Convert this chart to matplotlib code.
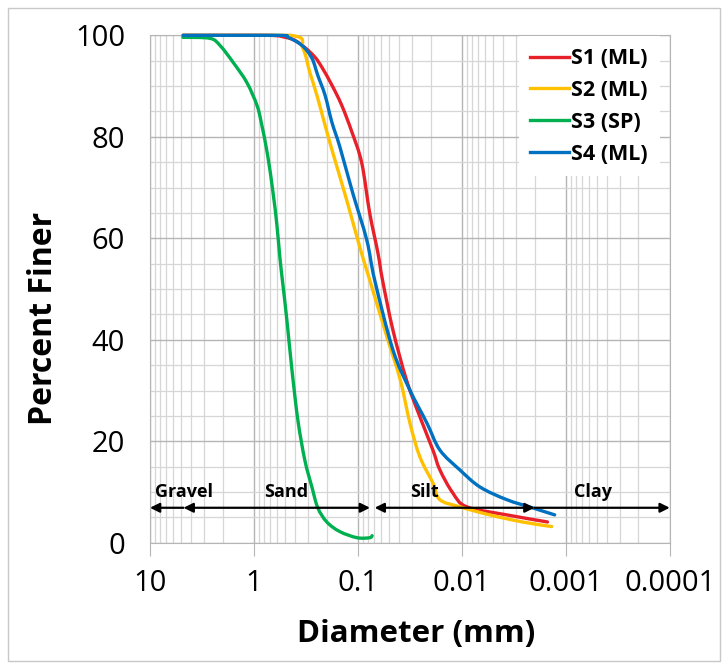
import numpy as np
import matplotlib
matplotlib.use('Agg')
from matplotlib import pyplot as plt
from matplotlib.patches import Rectangle, PathPatch
from matplotlib.path import Path
from matplotlib.lines import Line2D
from matplotlib.ticker import FixedLocator, LogLocator, NullFormatter

plt.rcParams['font.family'] = ['Open Sans', 'DejaVu Sans']

# grain size curves (diameter mm, percent finer)
s1_d = [4.8, 0.75, 0.5, 0.404, 0.324, 0.259, 0.222, 0.178, 0.143, 0.114, 0.0917,
        0.077, 0.064, 0.058, 0.046, 0.034, 0.0253, 0.019, 0.0163, 0.0122, 0.009, 0.0037, 0.0015]
s1_p = [100, 100, 99.6, 99, 97.6, 95.7, 93.7, 90.2, 86.2, 80.9, 74.8,
        65, 57, 51.8, 41.9, 32, 24.8, 18.3, 14.4, 9.8, 7.1, 5.5, 4.1]
s2_d = [4.8, 0.451, 0.338, 0.29, 0.248, 0.207, 0.174, 0.128, 0.096, 0.077, 0.0526, 0.039,
        0.0316, 0.0253, 0.019, 0.0163, 0.0105, 0.0054, 0.0026, 0.00137]
s2_p = [100, 100, 97.4, 92.7, 88.2, 82.3, 76.8, 67.5, 58.3, 51.8, 40.6, 32,
        23.6, 16.9, 11.8, 8.5, 7.1, 5.5, 4.1, 3.2]
s3_d = [4.82, 2.65, 2.12, 1.59, 1.17, 0.935, 0.85, 0.74, 0.656, 0.601, 0.562, 0.526, 0.482,
        0.431, 0.378, 0.324, 0.277, 0.243, 0.199, 0.149, 0.102, 0.077, 0.073]
s3_p = [99.6, 99.4, 98, 94.7, 90.7, 86.2, 82.8, 76.5, 69.1, 62.6, 56.1, 50.8, 43.9,
        34.1, 24.2, 16.3, 11, 6.9, 4.1, 2.2, 1.0, 1.0, 1.4]
s4_d = [4.8, 0.6, 0.471, 0.345, 0.277, 0.243, 0.207, 0.178, 0.149, 0.112, 0.082,
        0.069, 0.046, 0.0316, 0.0217, 0.0163, 0.0105, 0.0067, 0.0037, 0.0021, 0.00128]
s4_p = [100, 100, 99.6, 98, 95.5, 92.1, 88.2, 82.9, 78, 68.9, 59.6,
        51.8, 38, 30.1, 23.6, 18.3, 14.4, 11, 8.5, 6.9, 5.5]

labels = ['S1 (ML)', 'S2 (ML)', 'S3 (SP)', 'S4 (ML)']
colors = ['#e8202a', '#ffc000', '#00b050', '#0070c0']

# soil classes boundaries (mm)
bounds = [10, 4.75, 0.075, 0.002, 0.0001]
classes = ['Gravel', 'Sand', 'Silt', 'Clay']
class_x = [4.7, 0.49, 0.0227, 0.00055]
arrow_y = 6.9


def smooth_path(d, p, t=1 / 6.):
    # excel-like smoothed line: catmull-rom segments as cubic beziers in log space
    pts = np.column_stack([np.log10(d), p])
    n = len(pts)
    verts = [pts[0]]
    codes = [Path.MOVETO]
    for i in range(n - 1):
        p0 = pts[max(i - 1, 0)]
        p1 = pts[i]
        p2 = pts[i + 1]
        p3 = pts[min(i + 2, n - 1)]
        c1 = p1 + (p2 - p0) * t
        c2 = p2 - (p3 - p1) * t
        c1[1] = min(c1[1], 100)
        c2[1] = min(c2[1], 100)
        verts += [c1, c2, p2]
        codes += [Path.CURVE4] * 3
    verts = np.array(verts)
    verts[:, 0] = 10 ** verts[:, 0]
    return Path(verts, codes)


fig = plt.figure(figsize=(7.28, 6.66), dpi=100)
ax = fig.add_axes([0.206, 0.185, 0.714, 0.762])

ax.set_xscale('log')
ax.set_xlim(10, 0.0001)
ax.set_ylim(0, 100)

handles = []
for d, p, lab, c in zip([s1_d, s2_d, s3_d, s4_d], [s1_p, s2_p, s3_p, s4_p], labels, colors):
    patch = PathPatch(smooth_path(d, p), fill=False, edgecolor=c, lw=2.4,
                      capstyle='round', joinstyle='round', zorder=4, clip_on=False)
    ax.add_patch(patch)
    handles.append(Line2D([], [], color=c, lw=2.4))

ax.xaxis.set_major_locator(FixedLocator([10, 1, 0.1, 0.01, 0.001, 0.0001]))
ax.set_xticklabels(['10', '1', '0.1', '0.01', '0.001', '0.0001'])
ax.xaxis.set_minor_locator(LogLocator(base=10, subs=np.arange(2, 10)))
ax.xaxis.set_minor_formatter(NullFormatter())
ax.set_yticks([0, 20, 40, 60, 80, 100])
ax.set_yticks(np.arange(0, 101, 5), minor=True)

ax.grid(which='major', color='#b5b5b5', lw=1.0)
ax.grid(which='minor', color='#d6d6d6', lw=0.9)
ax.set_axisbelow(True)
for s in ax.spines.values():
    s.set_color('#b5b5b5')
ax.tick_params(axis='x', which='major', length=9, color='#b5b5b5', labelsize=21, pad=10)
ax.tick_params(axis='x', which='minor', length=0)
ax.tick_params(axis='y', which='both', length=0, labelsize=21, pad=18)

ax.set_xlabel('Diameter (mm)', fontsize=22.5, fontweight='bold')
ax.set_ylabel('Percent Finer', fontsize=23, fontweight='bold')
ax.xaxis.set_label_coords(0.513, -0.150)
ax.yaxis.set_label_coords(-0.174, 0.443)

# class arrows
astyle = dict(arrowstyle='-|>', color='black', lw=1.6, mutation_scale=14, shrinkA=0, shrinkB=0)
ax.annotate('', xy=(bounds[0], arrow_y), xytext=(bounds[1], arrow_y), arrowprops=astyle, zorder=5)
both = dict(astyle, arrowstyle='<|-|>')
ax.annotate('', xy=(bounds[1], arrow_y), xytext=(bounds[2] * 1.02, arrow_y), arrowprops=both, zorder=5)
ax.annotate('', xy=(bounds[2] * 0.92, arrow_y), xytext=(bounds[3], arrow_y), arrowprops=both, zorder=5)
ax.annotate('', xy=(bounds[4], arrow_y), xytext=(bounds[3], arrow_y), arrowprops=astyle, zorder=5)
for name, x in zip(classes, class_x):
    ax.text(x, arrow_y + 1.3, name, fontsize=13, fontweight='bold', ha='center', va='bottom', zorder=5)

leg = ax.legend(handles, labels, loc='upper right', bbox_to_anchor=(0.983, 1.0),
                frameon=True, fancybox=False, edgecolor='none',
                framealpha=1, handlelength=1.8, handletextpad=0.1, borderpad=0.55,
                labelspacing=0.5, borderaxespad=0.05, prop={'size': 15.5, 'weight': 'bold'})

fig.patches.append(Rectangle((0.011, 0.008), 0.978, 0.98, transform=fig.transFigure,
                             fill=False, edgecolor='#c8c8c8', lw=1))

fig.savefig('out.png', dpi=100)
